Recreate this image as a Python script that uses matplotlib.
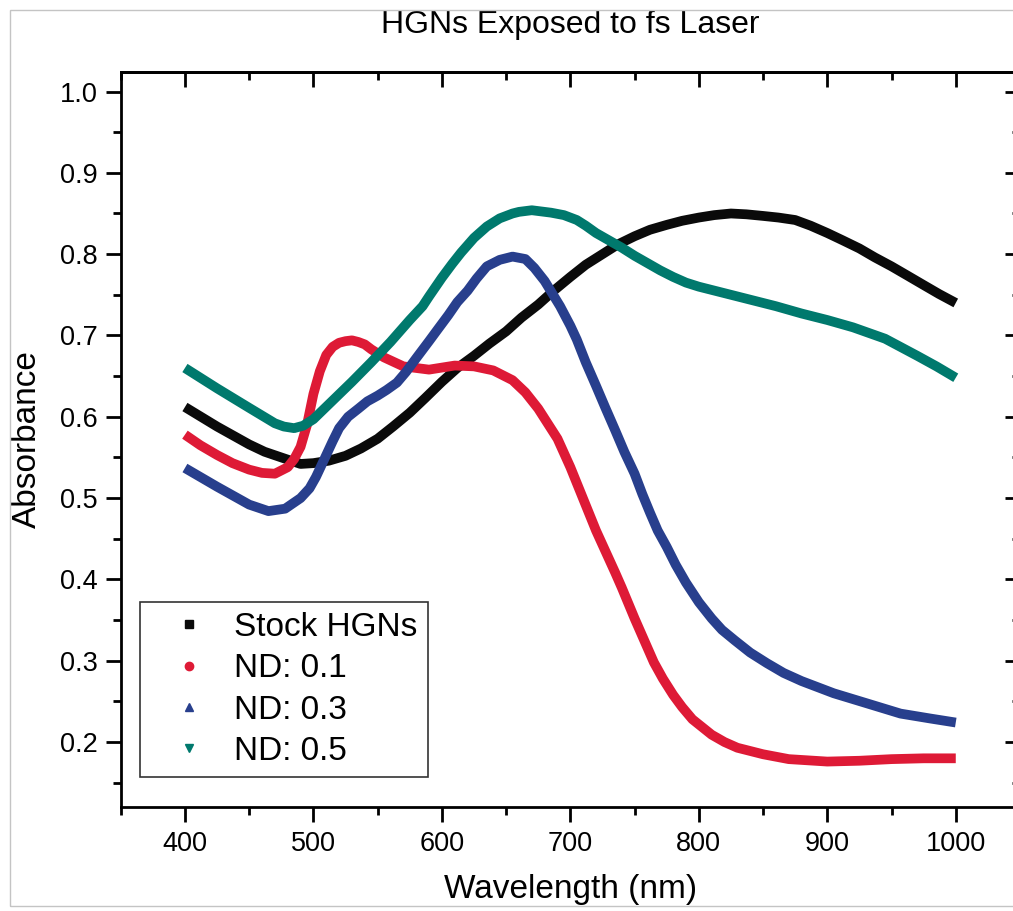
import numpy as np
import matplotlib.pyplot as plt
from matplotlib.lines import Line2D
from matplotlib.patches import Rectangle

plt.rcParams['font.family'] = ['Liberation Sans', 'DejaVu Sans']

# 값은 그림에서 읽은 것 (nm, absorbance)
stock_wl = [400, 425, 450, 462, 475, 490, 500, 512, 525, 537, 550, 562, 575, 587, 600,
            612, 625, 637, 650, 662, 675, 687, 700, 712, 725, 737, 750, 762, 775, 787,
            800, 812, 825, 837, 850, 862, 875, 887, 900, 912, 925, 937, 950, 962, 975,
            987, 1000]
stock_abs = [0.612, 0.588, 0.566, 0.557, 0.550, 0.542, 0.543, 0.546, 0.552, 0.561, 0.573,
             0.588, 0.605, 0.623, 0.643, 0.660, 0.675, 0.690, 0.705, 0.722, 0.738, 0.755,
             0.772, 0.787, 0.800, 0.812, 0.822, 0.830, 0.836, 0.841, 0.845, 0.848, 0.850,
             0.849, 0.847, 0.845, 0.842, 0.835, 0.826, 0.817, 0.807, 0.796, 0.785, 0.774,
             0.762, 0.751, 0.740]

nd01_wl = [400, 412, 425, 437, 450, 460, 470, 480, 485, 490, 495, 500, 505, 510, 515,
           520, 525, 530, 535, 540, 545, 555, 570, 590, 610, 625, 640, 655, 665, 675,
           690, 700, 710, 720, 735, 740, 750, 755, 765, 772, 780, 787, 795, 810, 820,
           830, 850, 870, 900, 925, 950, 975, 1000]
nd01_abs = [0.578, 0.565, 0.553, 0.543, 0.535, 0.531, 0.530, 0.538, 0.548, 0.563, 0.590,
            0.628, 0.656, 0.676, 0.686, 0.691, 0.693, 0.694, 0.692, 0.689, 0.683, 0.673,
            0.662, 0.658, 0.663, 0.662, 0.657, 0.645, 0.630, 0.610, 0.573, 0.538, 0.499,
            0.460, 0.408, 0.390, 0.352, 0.334, 0.298, 0.278, 0.258, 0.243, 0.228, 0.209,
            0.200, 0.193, 0.185, 0.179, 0.176, 0.177, 0.179, 0.180, 0.180]

nd03_wl = [400, 425, 450, 465, 478, 490, 497, 502, 510, 515, 520, 527, 535, 542, 550,
           557, 565, 572, 580, 590, 597, 605, 612, 620, 627, 635, 645, 655, 665, 672,
           680, 692, 700, 705, 712, 720, 727, 735, 742, 750, 756, 762, 768, 775, 782,
           790, 800, 810, 818, 828, 840, 853, 866, 880, 905, 930, 957, 980, 1000]
nd03_abs = [0.537, 0.514, 0.492, 0.484, 0.487, 0.500, 0.512, 0.526, 0.553, 0.570, 0.586,
            0.600, 0.610, 0.619, 0.626, 0.633, 0.642, 0.655, 0.672, 0.693, 0.708, 0.725,
            0.741, 0.755, 0.770, 0.785, 0.793, 0.797, 0.794, 0.783, 0.767, 0.736, 0.712,
            0.695, 0.667, 0.638, 0.612, 0.583, 0.557, 0.530, 0.505, 0.482, 0.460, 0.440,
            0.418, 0.396, 0.372, 0.352, 0.338, 0.325, 0.310, 0.297, 0.285, 0.275, 0.260,
            0.248, 0.235, 0.229, 0.224]

nd05_wl = [400, 425, 450, 470, 477, 485, 492, 500, 515, 530, 545, 560, 575, 585, 590,
           600, 608, 615, 625, 635, 645, 655, 660, 670, 685, 695, 705, 712, 720, 730,
           740, 750, 760, 770, 780, 790, 800, 820, 840, 860, 880, 900, 920, 945, 970,
           985, 1000]
nd05_abs = [0.660, 0.635, 0.611, 0.592, 0.588, 0.586, 0.589, 0.597, 0.620, 0.643, 0.667,
            0.692, 0.719, 0.736, 0.748, 0.771, 0.788, 0.802, 0.820, 0.834, 0.844, 0.850,
            0.852, 0.854, 0.851, 0.848, 0.842, 0.835, 0.826, 0.817, 0.808, 0.798, 0.789,
            0.780, 0.772, 0.765, 0.760, 0.752, 0.744, 0.736, 0.727, 0.719, 0.710, 0.696,
            0.675, 0.662, 0.648]

series = [
    (stock_wl, stock_abs, 'Stock HGNs', '#0a0a0a', 's'),
    (nd01_wl, nd01_abs, 'ND: 0.1', '#de1a36', 'o'),
    (nd03_wl, nd03_abs, 'ND: 0.3', '#283f8d', '^'),
    (nd05_wl, nd05_abs, 'ND: 0.5', '#00796d', 'v'),
]

W, H = 1013, 911
fig = plt.figure(figsize=(W / 100, H / 100), dpi=100)
# 오른쪽 축은 원본에서 잘려 있음
ax = fig.add_axes([120.7 / W, 1 - 806.7 / H, (1020 - 120.7) / W, (806.7 - 72) / H])

for wl, ab, lab, col, mk in series:
    ax.plot(wl, ab, color=col, lw=7, solid_capstyle='butt', solid_joinstyle='round')

ax.set_xlim(350, 1050)
ax.set_ylim(0.1205, 1.024)
ax.set_xticks(np.arange(400, 1001, 100))
ax.set_xticks(np.arange(350, 1051, 50), minor=True)
ax.set_yticks(np.arange(0.2, 1.01, 0.1))
ax.set_yticks(np.arange(0.15, 1.021, 0.05), minor=True)
ax.set_yticklabels([f"{v:.1f}" for v in np.arange(0.2, 1.01, 0.1)])

for s in ax.spines.values():
    s.set_linewidth(2.0)

ax.tick_params(axis='both', which='both', width=2.0, labelsize=19.5)
ax.tick_params(axis='both', which='major', length=10.5)
ax.tick_params(axis='both', which='minor', length=5.5)
ax.tick_params(axis='x', which='both', direction='out', pad=7, top=False)
ax.tick_params(axis='y', which='both', direction='out', pad=6, right=False)

# 위/오른쪽 축: 안쪽 눈금
ax_top = ax.secondary_xaxis('top')
ax_top.set_xticks(np.arange(400, 1001, 100))
ax_top.set_xticks(np.arange(350, 1051, 50), minor=True)
ax_top.tick_params(which='both', direction='in', width=2.0, labeltop=False)
ax_top.tick_params(which='major', length=10.5)
ax_top.tick_params(which='minor', length=5.5)
ax_top.spines['top'].set_linewidth(2.0)
ax_right = ax.secondary_yaxis('right')
ax_right.set_yticks(np.arange(0.2, 1.01, 0.1))
ax_right.set_yticks(np.arange(0.15, 1.021, 0.05), minor=True)
ax_right.tick_params(which='both', direction='in', width=2.0, labelright=False)
ax_right.tick_params(which='major', length=10.5)
ax_right.tick_params(which='minor', length=5.5)

ax.set_xlabel("Wavelength (nm)", fontsize=24, labelpad=12)
ax.set_ylabel("Absorbance", fontsize=24, labelpad=12)
ax.set_title("HGNs Exposed to fs Laser", fontsize=23, pad=28)

handles = [Line2D([], [], ls='none', marker=mk, color=col, markersize=6)
           for wl, ab, lab, col, mk in series]
labels = [lab for wl, ab, lab, col, mk in series]
leg = ax.legend(handles, labels, loc='upper left',
                bbox_to_anchor=(140 / W, 1 - 602 / H), bbox_transform=fig.transFigure,
                fontsize=24, frameon=True, fancybox=False, edgecolor='black',
                handlelength=2.35, handletextpad=0.18, labelspacing=0.31,
                borderpad=0.3, borderaxespad=0, markerfirst=True)
leg.get_frame().set_linewidth(1.2)

# 바깥 회색 테두리
fig.add_artist(Rectangle((10 / W, 1 - 906 / H), 1.1, (906 - 10) / H,
                         transform=fig.transFigure, fill=False,
                         edgecolor='#c4c4c4', lw=1.0))

fig.savefig('out.png', dpi=100)
